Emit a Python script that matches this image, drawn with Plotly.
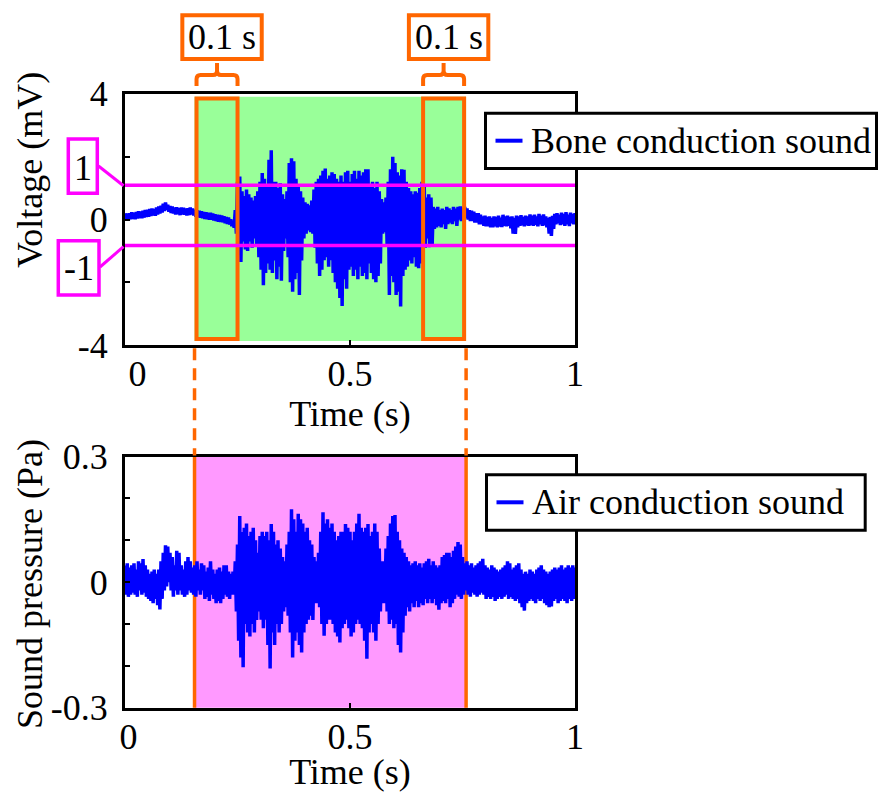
import numpy as np
import plotly.graph_objects as go

# ---------------- data ----------------
SAMPLE_STEP = 0.005  # s, spacing of the read-off peak/trough pairs

bone_hi = [
    0.20, 0.19, 0.20, 0.23, 0.21, 0.24, 0.26, 0.25, 0.28, 0.30,
    0.31, 0.33, 0.35, 0.33, 0.38, 0.41, 0.44, 0.50, 0.54, 0.47,
    0.43, 0.41, 0.38, 0.39, 0.36, 0.38, 0.37, 0.35, 0.36, 0.38,
    0.35, 0.31, 0.29, 0.28, 0.26, 0.24, 0.23, 0.21, 0.21, 0.19,
    0.17, 0.15, 0.14, 0.13, 0.10, 0.08, 0.06, 0.01, -0.04, 0.30,
    1.20, 1.37, 0.90, 0.75, 0.95, 0.80, 0.70, 0.60, 0.75, 0.90,
    1.20, 1.48, 1.30, 1.10, 1.90, 2.20, 1.20, 1.20, 1.00, 1.15,
    0.80, 0.65, 0.90, 1.80, 1.95, 1.85, 1.30, 1.10, 0.90, 0.70,
    0.55, 0.50, 0.45, 0.60, 0.95, 1.20, 1.30, 1.40, 1.55, 1.62,
    1.30, 1.40, 1.50, 1.45, 1.30, 1.20, 1.40, 1.20, 1.50, 1.55,
    1.20, 1.45, 1.55, 1.30, 1.55, 1.40, 1.50, 1.60, 1.60, 1.10,
    1.20, 1.00, 1.20, 0.90, 0.65, 0.55, 0.70, 1.20, 1.60, 2.00,
    1.80, 1.50, 1.40, 1.60, 1.58, 1.20, 1.00, 0.90, 0.80, 0.90,
    0.85, 1.00, 1.20, 1.05, 0.70, 0.80, 0.70, 0.40, 0.35, 0.40,
    0.30, 0.35, 0.30, 0.40, 0.35, 0.30, 0.40, 0.35, 0.40, 0.42,
    0.38, 0.40, 0.35, 0.30, 0.28, 0.25, 0.20, 0.20, 0.15, 0.10,
    0.12, 0.08, 0.10, 0.05, 0.10, 0.08, 0.12, 0.06, 0.15, 0.10,
    0.12, 0.08, 0.10, 0.05, 0.12, 0.10, 0.14, 0.08, 0.12, 0.10,
    0.16, 0.12, 0.15, 0.10, 0.18, 0.12, 0.16, 0.10, 0.05, 0.08,
    0.12, 0.18, 0.20, 0.15, 0.22, 0.18, 0.23, 0.15, 0.22, 0.18,
    0.20,
]
bone_lo = [
    0.00, -0.02, 0.01, 0.02, 0.01, 0.03, 0.04, 0.04, 0.06, 0.08,
    0.09, 0.11, 0.13, 0.12, 0.16, 0.19, 0.22, 0.27, 0.31, 0.25,
    0.21, 0.19, 0.16, 0.17, 0.14, 0.16, 0.15, 0.13, 0.14, 0.16,
    0.13, 0.09, 0.07, 0.06, 0.04, 0.02, 0.01, -0.01, -0.01, -0.03,
    -0.05, -0.07, -0.08, -0.09, -0.12, -0.14, -0.16, -0.21, -0.26, -0.45,
    -1.00, -1.35, -0.70, -0.95, -1.00, -0.70, -0.90, -0.60, -0.85, -1.20,
    -1.60, -2.09, -1.70, -1.40, -1.60, -1.70, -1.30, -1.90, -1.50, -1.95,
    -1.00, -0.60, -1.20, -2.00, -2.30, -1.90, -1.70, -2.40, -1.30, -0.60,
    -0.45, -0.35, -0.40, -0.45, -0.90, -1.40, -1.80, -1.60, -1.30, -1.20,
    -1.50, -1.30, -1.70, -2.00, -2.20, -2.50, -2.75, -1.90, -2.20, -1.60,
    -1.50, -1.80, -1.60, -1.90, -1.50, -1.80, -1.70, -1.90, -1.40, -1.70,
    -1.90, -2.00, -1.80, -1.40, -0.45, -0.40, -0.80, -2.40, -1.80, -2.00,
    -2.40, -2.30, -2.77, -1.80, -1.60, -1.50, -1.30, -1.40, -1.20, -1.50,
    -1.55, -1.40, -1.00, -0.90, -0.60, -0.88, -0.85, -0.30, -0.25, -0.20,
    -0.25, -0.15, -0.30, -0.15, -0.10, -0.15, -0.05, -0.20, 0.00, -0.05,
    0.00, 0.05, 0.00, -0.05, -0.05, -0.10, -0.10, -0.15, -0.15, -0.20,
    -0.22, -0.22, -0.25, -0.25, -0.22, -0.25, -0.22, -0.24, -0.20, -0.22,
    -0.20, -0.28, -0.45, -0.46, -0.25, -0.20, -0.18, -0.22, -0.18, -0.20,
    -0.18, -0.20, -0.17, -0.22, -0.15, -0.20, -0.18, -0.25, -0.45, -0.52,
    -0.30, -0.15, -0.12, -0.18, -0.15, -0.20, -0.15, -0.21, -0.12, -0.15,
    -0.12,
]
air_hi = [
    0.040, 0.045, 0.035, 0.040, 0.045, 0.030, 0.050, 0.045, 0.055, 0.040,
    0.030, 0.020, 0.025, 0.030, 0.020, 0.030, 0.050, 0.070, 0.088, 0.085,
    0.070, 0.060, 0.040, 0.075, 0.070, 0.040, 0.030, 0.050, 0.060, 0.050,
    0.035, 0.040, 0.050, 0.030, 0.045, 0.040, 0.025, 0.035, 0.050, 0.030,
    0.020, 0.030, 0.035, 0.025, 0.040, 0.040, 0.025, 0.020, 0.025, 0.050,
    0.090, 0.158, 0.120, 0.130, 0.140, 0.110, 0.120, 0.130, 0.100, 0.070,
    0.110, 0.120, 0.110, 0.120, 0.100, 0.139, 0.120, 0.090, 0.100, 0.080,
    0.060, 0.050, 0.090, 0.120, 0.174, 0.150, 0.120, 0.163, 0.150, 0.140,
    0.120, 0.130, 0.100, 0.090, 0.060, 0.050, 0.070, 0.120, 0.167, 0.140,
    0.150, 0.130, 0.140, 0.120, 0.100, 0.110, 0.120, 0.120, 0.139, 0.130,
    0.120, 0.100, 0.120, 0.140, 0.163, 0.130, 0.120, 0.130, 0.139, 0.110,
    0.120, 0.140, 0.120, 0.080, 0.050, 0.050, 0.080, 0.110, 0.140, 0.158,
    0.160, 0.120, 0.100, 0.080, 0.070, 0.060, 0.050, 0.040, 0.045, 0.050,
    0.040, 0.045, 0.035, 0.045, 0.050, 0.056, 0.040, 0.050, 0.040, 0.035,
    0.040, 0.060, 0.065, 0.070, 0.070, 0.060, 0.075, 0.085, 0.096, 0.090,
    0.060, 0.045, 0.050, 0.040, 0.045, 0.035, 0.040, 0.045, 0.050, 0.056,
    0.040, 0.035, 0.030, 0.040, 0.035, 0.030, 0.025, 0.030, 0.035, 0.040,
    0.050, 0.045, 0.030, 0.035, 0.040, 0.045, 0.030, 0.020, 0.025, 0.020,
    0.030, 0.025, 0.020, 0.030, 0.035, 0.040, 0.030, 0.025, 0.020, 0.025,
    0.030, 0.035, 0.030, 0.035, 0.040, 0.030, 0.035, 0.040, 0.035, 0.040,
    0.035,
]
air_lo = [
    -0.030, -0.035, -0.030, -0.025, -0.030, -0.035, -0.020, -0.030, -0.025, -0.035,
    -0.040, -0.045, -0.050, -0.040, -0.055, -0.065, -0.040, -0.020, -0.010, 0.000,
    -0.020, -0.035, -0.020, -0.030, -0.020, -0.030, -0.035, -0.030, -0.020, -0.025,
    -0.030, -0.035, -0.020, -0.030, -0.020, -0.040, -0.035, -0.045, -0.030, -0.040,
    -0.050, -0.045, -0.050, -0.040, -0.030, -0.035, -0.040, -0.030, -0.030, -0.070,
    -0.140, -0.180, -0.203, -0.100, -0.120, -0.130, -0.100, -0.120, -0.090, -0.070,
    -0.090, -0.110, -0.090, -0.150, -0.206, -0.120, -0.150, -0.100, -0.120, -0.100,
    -0.070, -0.060, -0.080, -0.120, -0.180, -0.140, -0.120, -0.150, -0.168, -0.120,
    -0.100, -0.090, -0.080, -0.090, -0.050, -0.050, -0.060, -0.100, -0.128, -0.100,
    -0.090, -0.090, -0.100, -0.120, -0.130, -0.144, -0.110, -0.100, -0.090, -0.110,
    -0.130, -0.120, -0.100, -0.090, -0.100, -0.110, -0.140, -0.183, -0.120, -0.100,
    -0.120, -0.140, -0.100, -0.070, -0.050, -0.050, -0.070, -0.100, -0.090, -0.110,
    -0.100, -0.150, -0.168, -0.120, -0.080, -0.060, -0.070, -0.050, -0.060, -0.045,
    -0.060, -0.050, -0.055, -0.040, -0.050, -0.040, -0.050, -0.040, -0.055, -0.066,
    -0.050, -0.045, -0.050, -0.040, -0.060, -0.050, -0.040, -0.030, -0.035, -0.040,
    -0.030, -0.020, -0.030, -0.035, -0.025, -0.030, -0.035, -0.030, -0.025, -0.030,
    -0.040, -0.035, -0.040, -0.035, -0.045, -0.040, -0.035, -0.040, -0.035, -0.030,
    -0.040, -0.035, -0.040, -0.045, -0.040, -0.050, -0.060, -0.068, -0.050, -0.045,
    -0.040, -0.045, -0.050, -0.040, -0.045, -0.040, -0.050, -0.055, -0.060, -0.058,
    -0.045, -0.040, -0.050, -0.045, -0.040, -0.045, -0.050, -0.040, -0.045, -0.040,
    -0.035,
]

series_names = ["Bone conduction sound", "Air conduction sound"]
speech_region = [0.1545, 0.758]            # s (shaded interval)
windows = [[0.1545, 0.2545], [0.658, 0.758]]  # s (0.1 s windows)
window_label = "0.1 s"
threshold_labels = ["1", "-1"]
threshold_levels = [1.09, -0.83]           # drawn position of the 1 / -1 lines
x_tickvals = [0, 0.5, 1]
bone_tickvals = [-4, -2, 0, 2, 4]
bone_ticktext = ["-4", "", "0", "", "4"]
air_tickvals = [-0.3, -0.2, -0.1, 0, 0.1, 0.2, 0.3]
air_ticktext = ["-0.3", "", "", "0", "", "", "0.3"]

# ---------------- styling ----------------
FONT = "Liberation Serif"
FS = 36
W, H = 884, 792
BLUE = "#0000FF"
ORANGE = "#FF6600"
MAGENTA = "#FF00FF"
GREEN_FILL = "#99FF99"
PINK_FILL = "#FF99FF"


def px(x):
    return x / W


def py(y):
    return 1 - y / H


X_L, X_R = 125, 575
TOP_T, TOP_B = 93.8, 345.2
BOT_T, BOT_B = 456.5, 707.8
DX = 1.0 / (X_R - X_L)  # data units per pixel on x

t = np.arange(len(bone_hi)) * SAMPLE_STEP


def zigzag(hi, lo):
    xs = np.empty(2 * len(hi))
    ys = np.empty(2 * len(hi))
    xs[0::2] = t
    xs[1::2] = t + SAMPLE_STEP / 2
    ys[0::2] = hi
    ys[1::2] = lo
    return xs, ys


fig = go.Figure()
bx, byv = zigzag(bone_hi, bone_lo)
ax_, ayv = zigzag(air_hi, air_lo)
fig.add_trace(go.Scatter(x=bx, y=byv, mode="lines", name=series_names[0],
                         line=dict(color=BLUE, width=3.5), xaxis="x", yaxis="y",
                         showlegend=False))
fig.add_trace(go.Scatter(x=ax_, y=ayv, mode="lines", name=series_names[1],
                         line=dict(color=BLUE, width=3.5), xaxis="x2", yaxis="y2",
                         showlegend=False))

tickfont = dict(family=FONT, size=FS, color="black")
common_x = dict(range=[0, 1], domain=[px(X_L), px(X_R)], tickvals=x_tickvals,
                ticks="inside", ticklen=5, tickwidth=2, tickcolor="black",
                showline=True, linewidth=3, linecolor="black", mirror=True,
                showgrid=False, zeroline=False, tickfont=tickfont,
                ticklabelstandoff=-5, automargin=False)
common_y = dict(ticks="inside", ticklen=5, tickwidth=2, tickcolor="black",
                showline=True, linewidth=3, linecolor="black", mirror=True,
                showgrid=False, zeroline=False, tickfont=tickfont,
                ticklabelstandoff=7, automargin=False)

fig.update_layout(
    template="none",
    width=W, height=H, margin=dict(l=0, r=0, t=0, b=0, autoexpand=False),
    paper_bgcolor="white", plot_bgcolor="white",
    font=dict(family=FONT, size=FS, color="black"),
    xaxis=dict(common_x, anchor="y",
               ticktext=["\u2002\u20090", "0.5", "1"],
               title=dict(text="Time (s)", font=tickfont, standoff=0)),
    yaxis=dict(common_y, anchor="x", range=[-4, 4],
               domain=[py(TOP_B), py(TOP_T)],
               tickvals=bone_tickvals, ticktext=bone_ticktext),
    xaxis2=dict(common_x, anchor="y2",
                ticktext=["\u20090", "0.5", "1"],
                title=dict(text="Time (s)", font=tickfont, standoff=3)),
    yaxis2=dict(common_y, anchor="x2", range=[-0.3, 0.3],
                domain=[py(BOT_B), py(BOT_T)],
                tickvals=air_tickvals, ticktext=air_ticktext),
    showlegend=False,
)

shapes = []
# shaded speech interval (top: green, bottom: pink)
shapes.append(dict(type="rect", xref="x", yref="y", x0=speech_region[0], x1=speech_region[1],
                   y0=-3.87, y1=3.91, fillcolor=GREEN_FILL, line=dict(width=0), layer="below"))
shapes.append(dict(type="rect", xref="x2", yref="y2 domain", x0=speech_region[0], x1=speech_region[1],
                   y0=0, y1=1, fillcolor=PINK_FILL, line=dict(width=0), layer="below"))
for xe in speech_region:
    shapes.append(dict(type="line", xref="x2", yref="y2 domain", x0=xe, x1=xe, y0=0, y1=1,
                       line=dict(color=ORANGE, width=3.5), layer="below"))
    shapes.append(dict(type="line", xref="x", yref="paper", x0=xe, x1=xe,
                       y0=py(TOP_B + 3), y1=py(BOT_T - 1),
                       line=dict(color=ORANGE, width=3.5, dash="12px,8px")))
# 0.1 s windows
inset = 2 * DX
for w0, w1 in windows:
    shapes.append(dict(type="rect", xref="x", yref="y", x0=w0 + inset, x1=w1 - inset,
                       y0=-3.80, y1=3.85, line=dict(color=ORANGE, width=4),
                       fillcolor="rgba(0,0,0,0)", layer="above"))
    a, b = w0 + inset, w1 - inset
    c = (w0 + w1) / 2
    r = 4 * DX
    yb, yh, yt = py(86), py(75), py(63)
    yr = py(79)
    yr2 = py(71)
    path = (f"M{a},{yb} L{a},{yr} Q{a},{yh} {a + r},{yh} L{c - r},{yh} Q{c},{yh} {c},{yr2} "
            f"L{c},{yt} M{c},{yr2} Q{c},{yh} {c + r},{yh} L{b - r},{yh} Q{b},{yh} {b},{yr} L{b},{yb}")
    shapes.append(dict(type="path", xref="x", yref="paper", path=path,
                       line=dict(color=ORANGE, width=4)))
    bc = c + 5 * DX
    shapes.append(dict(type="rect", xref="x", yref="paper", x0=bc - 39.7 * DX, x1=bc + 39.7 * DX,
                       y0=py(59), y1=py(15.3), line=dict(color=ORANGE, width=4),
                       fillcolor="white"))
# threshold lines
for lv in threshold_levels:
    shapes.append(dict(type="line", xref="x domain", yref="y", x0=0, x1=1, y0=lv, y1=lv,
                       line=dict(color=MAGENTA, width=3.5), layer="above"))
# threshold label boxes and connectors (pixel layout)
boxes = [(68.3, 97.3, 139, 193.3), (58.3, 99, 240.7, 295)]
connectors = [((98.5, 166), (123.5, 185.7)), ((100, 267), (123.5, 246.7))]
for (x0, x1, y0, y1) in boxes:
    shapes.append(dict(type="rect", xref="paper", yref="paper", x0=px(x0), x1=px(x1),
                       y0=py(y1), y1=py(y0), line=dict(color=MAGENTA, width=3.5)))
for (p0, p1) in connectors:
    shapes.append(dict(type="line", xref="paper", yref="paper", x0=px(p0[0]), y0=py(p0[1]),
                       x1=px(p1[0]), y1=py(p1[1]), line=dict(color=MAGENTA, width=3)))

# legend boxes (box, line sample, label) in pixel layout
legend_boxes = [(485.5, 876.5, 113.2, 168.5, 140.7), (486.5, 865.2, 474.8, 530.2, 502.3)]
for (x0, x1, y0, y1, yc) in legend_boxes:
    shapes.append(dict(type="rect", xref="paper", yref="paper", x0=px(x0), x1=px(x1),
                       y0=py(y1), y1=py(y0), line=dict(color="black", width=3),
                       fillcolor="white", layer="above"))
    shapes.append(dict(type="line", xref="paper", yref="paper", x0=px(x0 + 10), x1=px(x0 + 37),
                       y0=py(yc), y1=py(yc), line=dict(color=BLUE, width=4), layer="above"))
fig.update_layout(shapes=shapes)

ann = []
for w0, w1 in windows:
    ann.append(dict(xref="x", yref="paper", x=(w0 + w1) / 2 + 5 * DX, y=py(37), text=window_label,
                    showarrow=False, font=tickfont, xanchor="center", yanchor="middle"))
label_pos = [(83, 168), (78.7, 268)]
for lab, (lx, ly) in zip(threshold_labels, label_pos):
    ann.append(dict(xref="paper", yref="paper", x=px(lx), y=py(ly), text=lab, showarrow=False,
                    font=tickfont, xanchor="center", yanchor="middle"))
for name, (x0, x1, y0, y1, yc) in zip(series_names, legend_boxes):
    ann.append(dict(xref="paper", yref="paper", x=px(x0 + 43), y=py(yc), text=name,
                    showarrow=False, font=tickfont, xanchor="left", yanchor="middle"))
ann.append(dict(xref="paper", yref="paper", x=px(30), y=py(170), text="Voltage (mV)",
                textangle=-90, showarrow=False, font=tickfont, xanchor="center", yanchor="middle"))
ann.append(dict(xref="paper", yref="paper", x=px(30), y=py(584), text="Sound pressure (Pa)",
                textangle=-90, showarrow=False, font=tickfont, xanchor="center", yanchor="middle"))
fig.update_layout(annotations=ann)

fig.write_html("out.html", config={"displayModeBar": False},
               post_script="document.body.style.margin='0';document.body.style.overflow='hidden';")
